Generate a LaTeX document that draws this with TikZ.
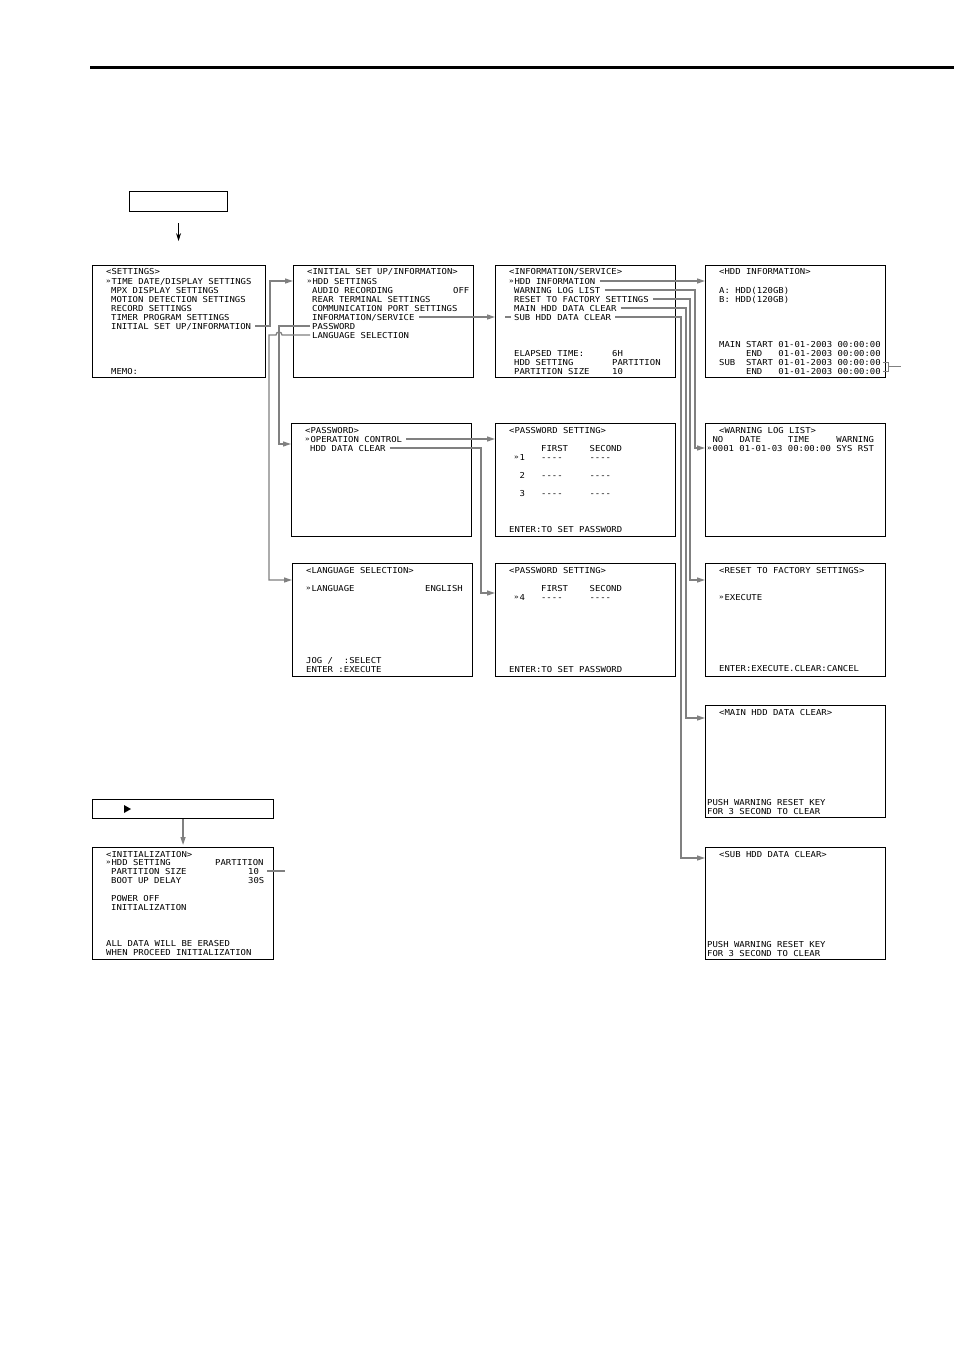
\documentclass[tikz,border=0pt]{standalone}
\usepackage{fontspec}
\newfontfamily\scrfont[FakeStretch=1.09]{DejaVu Sans Mono}
\usetikzlibrary{arrows.meta}
\definecolor{linkgray}{RGB}{128,128,128}
\newcommand\cur{\makebox[5.38pt][l]{\fontsize{7}{7}\selectfont\raisebox{0.8pt}{»}}}

\begin{document}
\begin{tikzpicture}[x=1pt,y=-1pt,
  screen/.style={draw,line width=1.1pt,anchor=north west,inner sep=0pt},
  big/.style={screen,minimum width=180pt,minimum height=112pt},
  txt/.style={anchor=base west,inner sep=0pt,text height=6pt,text depth=0pt,font=\scrfont\fontsize{8.2}{9}\selectfont},
  link/.style={draw=linkgray,line width=1.3pt,shorten <=4pt,-{Triangle[length=8pt,width=5pt]}},
  wire/.style={draw=linkgray,line width=1.2pt}]
\useasboundingbox (0,0) rectangle (954,1351);
\draw[line width=3pt] (90,68) -- (954,68);

% screens
\node[screen,minimum width=98pt,minimum height=20pt] (top) at (129,191) {};
\node[big,minimum width=173pt] (set) at (92,265) {};
\node[big] (isu) at (293,265) {};
\node[big] (isv) at (495,265) {};
\node[big] (hddi) at (705,265) {};
\node[big,minimum height=113pt] (pw) at (291,423) {};
\node[big,minimum height=113pt] (pws1) at (495,423) {};
\node[big,minimum height=113pt] (wll) at (705,423) {};
\node[big,minimum height=113pt] (lang) at (292,563) {};
\node[big,minimum height=113pt] (pws2) at (495,563) {};
\node[big,minimum height=113pt] (rst) at (705,563) {};
\node[big] (mclr) at (705,705) {};
\node[big] (sclr) at (705,847) {};
\node[screen,minimum width=181pt,minimum height=19pt] (bar) at (92,799) {};
\node[big,minimum width=181pt] (init) at (92,847) {};
\fill (124,805) -- (131,809) -- (124,813) -- cycle;

% settings
\node[txt] (set0) at (106,274) {<SETTINGS>};
\node[txt] (set1) at (106,284) {\cur TIME DATE/DISPLAY SETTINGS};
\node[txt] (set2) at (111,293) {MPX DISPLAY SETTINGS};
\node[txt] (set3) at (111,302) {MOTION DETECTION SETTINGS};
\node[txt] (set4) at (111,311) {RECORD SETTINGS};
\node[txt] (set5) at (111,320) {TIMER PROGRAM SETTINGS};
\node[txt] (set6) at (111,329) {INITIAL SET UP/INFORMATION};
\node[txt] (set7) at (111,374) {MEMO:};

% initial set up / information
\node[txt] (isu0) at (307,274) {<INITIAL SET UP/INFORMATION>};
\node[txt] (isu1) at (307,284) {\cur HDD SETTINGS};
\node[txt] (isu2) at (312,293) {AUDIO RECORDING};
\node[txt] (isu2v) at (453,293) {OFF};
\node[txt] (isu3) at (312,302) {REAR TERMINAL SETTINGS};
\node[txt] (isu4) at (312,311) {COMMUNICATION PORT SETTINGS};
\node[txt] (isu5) at (312,320) {INFORMATION/SERVICE};
\node[txt] (isu6) at (312,329) {PASSWORD};
\node[txt] (isu7) at (312,338) {LANGUAGE SELECTION};

% information / service
\node[txt] (isv0) at (509,274) {<INFORMATION/SERVICE>};
\node[txt] (isv1) at (509,284) {\cur HDD INFORMATION};
\node[txt] (isv2) at (514,293) {WARNING LOG LIST};
\node[txt] (isv3) at (514,302) {RESET TO FACTORY SETTINGS};
\node[txt] (isv4) at (514,311) {MAIN HDD DATA CLEAR};
\node[txt] (isv5) at (514,320) {SUB HDD DATA CLEAR};
\node[txt] (isv6) at (514,356) {ELAPSED TIME:};
\node[txt] (isv6v) at (612,356) {6H};
\node[txt] (isv7) at (514,365) {HDD SETTING};
\node[txt] (isv7v) at (612,365) {PARTITION};
\node[txt] (isv8) at (514,374) {PARTITION SIZE};
\node[txt] (isv8v) at (612,374) {10};

% hdd information
\node[txt] (hddi0) at (719,274) {<HDD INFORMATION>};
\node[txt] (hddi1) at (719,293) {A: HDD(120GB)};
\node[txt] (hddi2) at (719,302) {B: HDD(120GB)};
\node[txt] (hddi3) at (719,347) {MAIN START 01-01-2003 00:00:00};
\node[txt] (hddi4) at (746,356) {END~~~01-01-2003 00:00:00};
\node[txt] (hddi5) at (719,365) {SUB~~START 01-01-2003 00:00:00};
\node[txt] (hddi6) at (746,374) {END~~~01-01-2003 00:00:00};

% password
\node[txt] (pw0) at (305,433) {<PASSWORD>};
\node[txt] (pw1) at (305,442) {\cur OPERATION CONTROL};
\node[txt] (pw2) at (310,451) {HDD DATA CLEAR};

% password setting 1-3
\node[txt] (pws10) at (509,433) {<PASSWORD SETTING>};
\node[txt] (pws11) at (541,451) {FIRST~~~~SECOND};
\node[txt] (pws12) at (514,460) {\cur 1~~~----~~~~~----};
\node[txt] (pws13) at (519.4,478) {2~~~----~~~~~----};
\node[txt] (pws14) at (519.4,496) {3~~~----~~~~~----};
\node[txt] (pws15) at (509,532) {ENTER:TO SET PASSWORD};

% warning log list
\node[txt] (wll0) at (719,433) {<WARNING LOG LIST>};
\node[txt] (wll1) at (712.4,442) {NO~~~DATE~~~~~TIME~~~~~WARNING};
\node[txt] (wll2) at (707,451) {\cur 0001 01-01-03 00:00:00 SYS RST};

% language selection
\node[txt] (lang0) at (306,573) {<LANGUAGE SELECTION>};
\node[txt] (lang1) at (306,591) {\cur LANGUAGE};
\node[txt] (lang1v) at (425,591) {ENGLISH};
\node[txt] (lang2) at (306,663) {JOG~/~~:SELECT};
\node[txt] (lang3) at (306,672) {ENTER~:EXECUTE};

% password setting 4
\node[txt] (pws20) at (509,573) {<PASSWORD SETTING>};
\node[txt] (pws21) at (541,591) {FIRST~~~~SECOND};
\node[txt] (pws22) at (514,600) {\cur 4~~~----~~~~~----};
\node[txt] (pws23) at (509,672) {ENTER:TO SET PASSWORD};

% reset to factory settings
\node[txt] (rst0) at (719,573) {<RESET TO FACTORY SETTINGS>};
\node[txt] (rst1) at (719,600) {\cur EXECUTE};
\node[txt] (rst2) at (719,671) {ENTER:EXECUTE.CLEAR:CANCEL};

% hdd data clear
\node[txt] (mclr0) at (719,715) {<MAIN HDD DATA CLEAR>};
\node[txt] (mclr1) at (707,805) {PUSH WARNING RESET KEY};
\node[txt] (mclr2) at (707,814) {FOR 3 SECOND TO CLEAR};
\node[txt] (sclr0) at (719,857) {<SUB HDD DATA CLEAR>};
\node[txt] (sclr1) at (707,947) {PUSH WARNING RESET KEY};
\node[txt] (sclr2) at (707,956) {FOR 3 SECOND TO CLEAR};

% initialization
\node[txt] (init0) at (106,857) {<INITIALIZATION>};
\node[txt] (init1) at (106,865) {\cur HDD SETTING};
\node[txt] (init1v) at (215,865) {PARTITION};
\node[txt] (init2) at (111,874) {PARTITION SIZE};
\node[txt] (init2v) at (248,874) {10};
\node[txt] (init3) at (111,883) {BOOT UP DELAY};
\node[txt] (init3v) at (248,883) {30S};
\node[txt] (init4) at (111,901) {POWER OFF};
\node[txt] (init5) at (111,910) {INITIALIZATION};
\node[txt] (init6) at (106,946) {ALL DATA WILL BE ERASED};
\node[txt] (init7) at (106,955) {WHEN PROCEED INITIALIZATION};

% connectors
\coordinate (j1) at (270,0);
\coordinate (j2) at (279,0);
\coordinate (j3) at (269,0);
\coordinate (j4) at (481,0);
\coordinate (j5) at (695,0);
\coordinate (j6) at (690,0);
\coordinate (j7) at (686,0);
\coordinate (j8) at (681,0);
\draw[-{Stealth[length=8pt,width=5pt]},line width=1pt] ([yshift=-11pt]top.south) -- ++(0,18);
\draw[link] (set6.east) -- (set6.east -| j1) |- (isu.west |- isu1);
\draw[link] (isu5.east) -- (isv.west |- isu5);
\draw[wire] ([xshift=-9pt]isv5.west) -- ([xshift=-3pt]isv5.west);
\draw[link,shorten <=2pt] (isu6.west) -- (isu6.west -| j2) |- ([yshift=-21pt]pw.north west);
\draw[link,shorten <=2pt] (isu7.west) -- ([xshift=3pt]isu7.west -| j2) arc[start angle=0,end angle=180,radius=3pt] -- (isu7.west -| j3) |- ([yshift=-17pt]lang.north west);
\draw[link] (pw1.east) -- (pws1.west |- pw1);
\draw[link] (pw2.east) -- (pw2.east -| j4) |- ([yshift=-30pt]pws2.north west);
\draw[link] (isv1.east) -- (hddi.west |- isv1);
\draw[link] (isv2.east) -- (isv2.east -| j5) |- (wll.west |- wll2);
\draw[link] (isv3.east) -- (isv3.east -| j6) |- ([yshift=-17pt]rst.north west);
\draw[link] (isv4.east) -- (isv4.east -| j7) |- ([yshift=-13pt]mclr.north west);
\draw[link] (isv5.east) -- (isv5.east -| j8) |- ([yshift=-11pt]sclr.north west);
\draw[link,shorten <=0pt,shorten >=2pt] (bar.south) -- (init.north);
\draw[wire,line width=0.8pt] ([xshift=2pt]hddi5.east) -- ++(6,0) |- ([xshift=2pt]hddi6.east);
\draw[wire] ([xshift=8pt]hddi5.east) ++(0,4.5) -- ++(12,0);
\draw[wire,shorten <=8pt] (init2v.east) -- ++(26,0);
\end{tikzpicture}
\end{document}
